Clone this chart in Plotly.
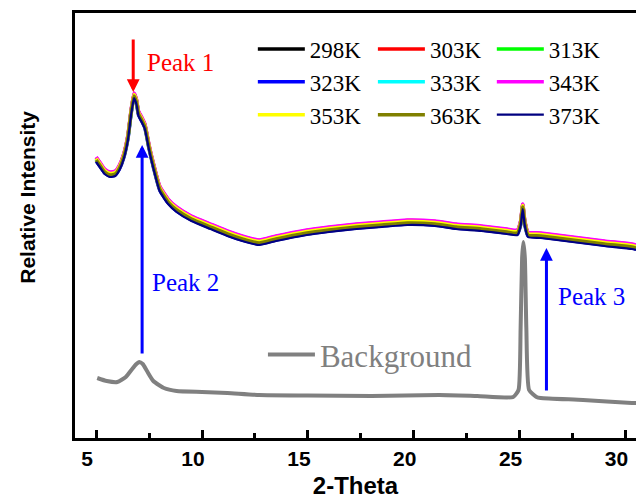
import plotly.graph_objects as go

# ---- data (2-Theta, relative intensity in arbitrary units) ----
two_theta = [5.0, 5.2, 5.4, 5.66, 5.9, 6.1, 6.3, 6.5, 6.65, 6.79, 6.9, 7.0, 7.15, 7.3,
             7.5, 7.7, 8.0, 8.4, 8.8, 9.5, 10.4, 11.2, 11.9, 12.7, 13.5, 14.95, 16.0,
             17.3, 18.5, 19.7, 21.0, 22.0, 23.2, 24.4, 24.9, 25.05, 25.15, 25.25, 25.4,
             26.0, 27.5, 29.0, 30.3, 30.5]
base_intensity = [278, 272, 266, 263, 264, 270, 281, 300, 325, 342, 336, 324, 318, 311,
                  290, 272, 249, 236, 228, 219, 211, 204, 199, 195, 199, 205, 208,
                  211, 213, 215, 214, 211, 209, 206, 205, 214, 231, 214, 203,
                  202, 198, 194, 191, 190]

temperatures = ["298K", "303K", "313K", "323K", "333K", "343K", "353K", "363K", "373K"]
temp_offsets = [1.0, 2.5, 2.0, -1.0, 0.5, 3.0, 1.5, 0.0, -2.0]
temp_colors = ["#000000", "#FF0000", "#00FF00", "#0000FF", "#00FFFF", "#FF00FF",
               "#FFFF00", "#808000", "#000080"]
temp_legends = ["legend", "legend2", "legend3"] * 3

bg_theta = [5.05, 5.5, 6.0, 6.4, 6.7, 6.9, 7.03, 7.2, 7.4, 7.7, 8.2, 8.8, 10.0, 11.2,
            12.7, 15.0, 18.0, 21.2, 23.0, 24.7, 24.95, 25.05, 25.12, 25.18, 25.25,
            25.32, 25.45, 25.8, 26.0, 28.0, 30.3, 30.5]
bg_intensity = [60, 57, 56, 61, 69, 74, 76, 74, 67, 57, 50, 47, 46, 45,
                43, 42.5, 42, 43, 42, 41, 48, 110, 180, 196, 180,
                110, 48, 41, 40, 38, 35, 35]

x_ticks = [5, 10, 15, 20, 25, 30]

fig = go.Figure()

fig.add_trace(go.Scatter(x=bg_theta, y=bg_intensity, mode="lines", name="Background",
                         line=dict(color="#808080", width=4, shape="spline", smoothing=0.5),
                         legend="legend4"))

for name, off, col, lg in zip(temperatures, temp_offsets, temp_colors, temp_legends):
    w = 2.2 if name == "373K" else 3.5
    fig.add_trace(go.Scatter(x=two_theta, y=[v + off for v in base_intensity],
                             mode="lines", name=name,
                             line=dict(color=col, width=w, shape="spline", smoothing=0.5),
                             legend=lg))

serif = "Liberation Serif, Times New Roman, serif"
sans = "Liberation Sans, Arial, sans-serif"
leg_common = dict(orientation="v", xanchor="left", yanchor="top", bgcolor="rgba(0,0,0,0)",
                  itemwidth=47, tracegroupgap=0, borderwidth=0,
                  font=dict(family=serif, size=23, color="#000000"))

# arrows
arrow_specs = [  # (tip x, tip y, tail x, tail y, color)
    (6.75, 346, 6.75, 400, "#FF0000"),
    (7.17, 293, 7.17, 83, "#0000FF"),
    (26.27, 190, 26.27, 46, "#0000FF"),
]
annotations = []
for tx, ty, ax_, ay_, c in arrow_specs:
    annotations.append(dict(x=tx, y=ty, ax=ax_, ay=ay_, xref="x", yref="y", axref="x",
                            ayref="y", text="", showarrow=True, arrowhead=2,
                            arrowsize=0.85, arrowwidth=3, arrowcolor=c))
label_specs = [("Peak 1", 7.31, 376, "#FF0000"), ("Peak 2", 7.55, 156, "#0000FF"),
               ("Peak 3", 26.7, 142, "#0000FF")]
for t, lx, ly, c in label_specs:
    annotations.append(dict(x=lx, y=ly, xref="x", yref="y", text=t, showarrow=False,
                            xanchor="left", yanchor="middle",
                            font=dict(family=serif, size=25, color=c)))
# y-axis title (placed as in the reference, above the plot-area centre)
annotations.append(dict(x=-0.086, y=0.567, xref="paper", yref="paper",
                        text="<b>Relative Intensity</b>",
                        showarrow=False, textangle=-90, xanchor="center", yanchor="middle",
                        font=dict(family=sans, size=21, color="black")))

fig.update_layout(
    width=636, height=504,
    margin=dict(l=75, r=0, t=13, b=66),
    paper_bgcolor="white", plot_bgcolor="white",
    showlegend=True,
    legend=dict(x=0.317, y=0.966, **leg_common),
    legend2=dict(x=0.531, y=0.966, **leg_common),
    legend3=dict(x=0.743, y=0.966, **leg_common),
    legend4=dict(x=0.335, y=0.259, orientation="v", xanchor="left", yanchor="top",
                 bgcolor="rgba(0,0,0,0)", itemwidth=47,
                 font=dict(family=serif, size=31, color="#808080")),
    annotations=annotations,
    xaxis=dict(range=[4.0, 30.5], tickvals=x_ticks, ticks="inside", ticklen=8, tickwidth=3,
               tickcolor="black", showline=True, linecolor="black", linewidth=3, mirror=True,
               showgrid=False, zeroline=False, ticklabelshift=-9,
               tickfont=dict(family=sans, size=21, color="black", weight="bold"),
               minor=dict(dtick=2.5, tick0=5, ticks="inside", ticklen=5, tickwidth=3,
                          tickcolor="black", showgrid=False),
               title=dict(text="<b>2-Theta</b>", standoff=8,
                          font=dict(family=sans, size=24, color="black"))),
    yaxis=dict(range=[0, 425], showticklabels=False, ticks="", showline=True,
               linecolor="black", linewidth=3, mirror=False, showgrid=False,
               zeroline=False),
)

fig.write_html("out.html")
